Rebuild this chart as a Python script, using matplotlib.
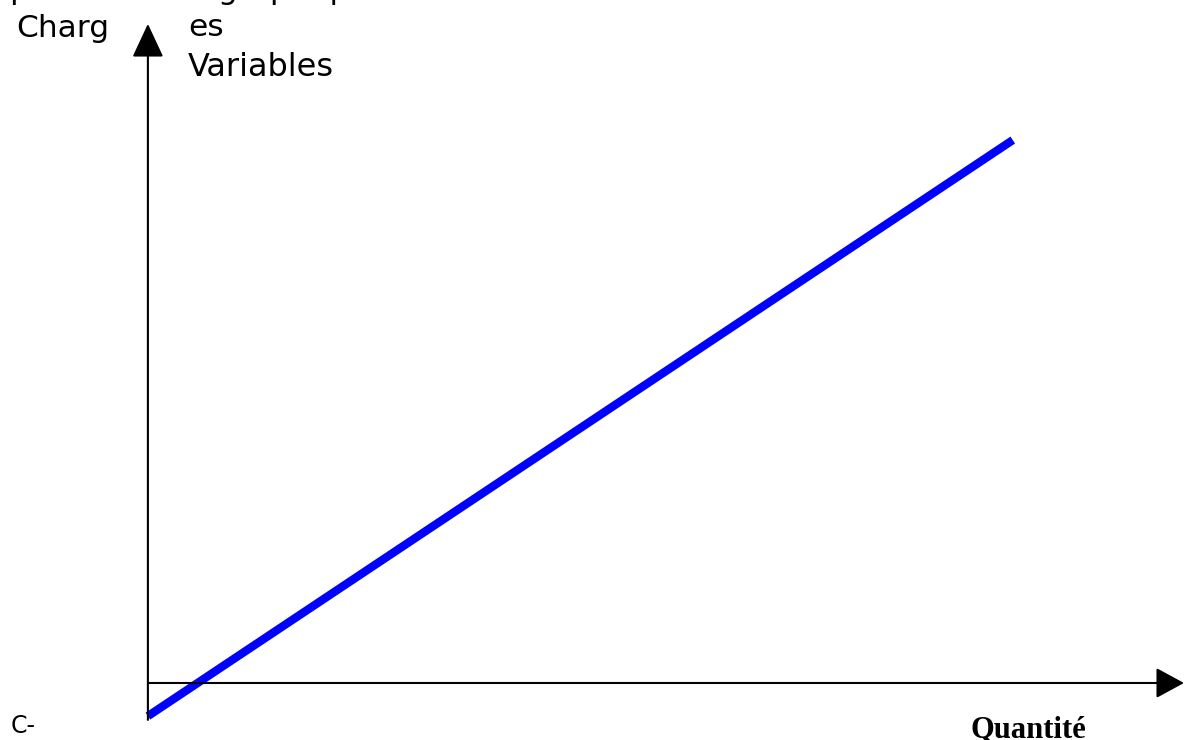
import matplotlib
matplotlib.use("Agg")
import matplotlib.pyplot as plt

# Data (quantity vs variable charges)
quantities = [0, 100]
charges = [-6.1, 100]

W, H, DPI = 1184, 740, 100
fig = plt.figure(figsize=(W / DPI, H / DPI), dpi=DPI)
ax = fig.add_axes([0, 0, 1, 1])
ax.set_xlim(-17.1, 119.8)
ax.set_ylim(-10.5, 125.8)
ax.axis("off")

# Axes with arrows
ax.annotate("", xy=(0, 121.4), xytext=(0, -6.8),
            arrowprops=dict(arrowstyle="-|>,head_length=2.1,head_width=0.98",
                            mutation_scale=10, lw=1.5, color="black",
                            shrinkA=0, shrinkB=0))
ax.annotate("", xy=(119.8, 0), xytext=(0, 0),
            arrowprops=dict(arrowstyle="-|>,head_length=1.75,head_width=0.95",
                            mutation_scale=10, lw=1.5, color="black",
                            shrinkA=0, shrinkB=0))

# Variable charges line
ax.plot(quantities, charges, color="#0000FF", lw=6, solid_capstyle="butt")

# Texts (pixel positions)
def px(x, y):
    return x / W, 1 - y / H

sans = "DejaVu Sans"
fig.text(*px(10, -1), "présentation graphique", fontsize=22.5, family=sans, va="baseline")
fig.text(*px(16, 37), "Charg", fontsize=22.5, family=sans, va="baseline")
fig.text(*px(188, 36), "es", fontsize=22.5, family=sans, va="baseline")
fig.text(*px(188, 76), "Variables", fontsize=23, family=sans, va="baseline")
fig.text(*px(11, 733), "C-", fontsize=17, family=sans, va="baseline")
fig.text(*px(971, 737), "Quantité", fontsize=22, family="Liberation Serif",
         weight="bold", va="baseline")

fig.savefig("out.png", dpi=DPI)
